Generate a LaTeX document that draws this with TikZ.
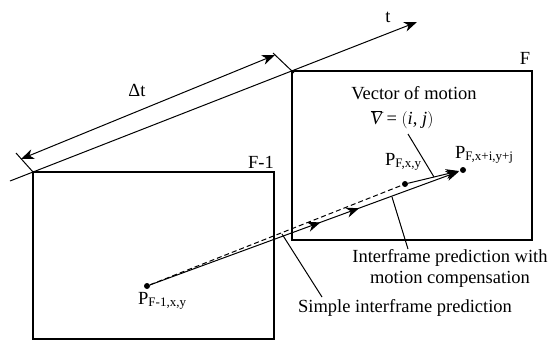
\documentclass[tikz,border=0pt]{standalone}
\usepackage{fontspec}
\setmainfont{Liberation Serif}
\usetikzlibrary{arrows.meta,decorations.markings,calc}
\tikzset{
  frame/.style={line width=2.3pt},
  thin line/.style={line width=1pt},
  tip/.style={-{Stealth[length=13pt,width=10pt,inset=4pt]}},
  dtip/.style={{Stealth[length=13pt,width=10pt,inset=4pt]}-{Stealth[length=13pt,width=10pt,inset=4pt]}},
  lbl/.style={inner sep=0pt, font=\fontsize{18.5}{21}\selectfont},
  dot/.style={circle, fill=black, inner sep=0pt, minimum size=6pt},
  midarrows/.style={decoration={markings,
     mark=at position 0.55 with {\arrow{Stealth[length=13pt,width=10pt,inset=4pt]}},
     mark=at position 0.675 with {\arrow{Stealth[length=13pt,width=10pt,inset=4pt]}}},
     postaction={decorate}},
}
\newcommand{\Psub}[1]{P\raisebox{-0.3ex}{\fontsize{13}{15}\selectfont #1}}
\begin{document}
\begin{tikzpicture}[x=1pt,y=-1pt]
\useasboundingbox (0,0) rectangle (555,341);
% frames
\draw[frame] (33,172) rectangle (274,339);
\draw[frame] (292,71) rectangle (532,240);
% time axis
\coordinate (ax0) at (10,181);
\coordinate (ax1) at (417,22);
\coordinate (c1) at (33,172);
\coordinate (c2) at (292,71);
\draw[thin line, tip] (ax0) -- (ax1);
% ticks
\coordinate (t1) at (16,153);
\coordinate (t2) at (273,53);
\draw[thin line] (t1) -- (c1);
\draw[thin line] (t2) -- ($(c2)+(2,2)$);
% delta t
\coordinate (d1) at (21,159);
\coordinate (d2) at (275,55);
\draw[thin line, dtip] (d1) -- (d2);
\node[lbl] (dt) at (137,90) {Δt};
\node[lbl] (tl) at (388,17) {t};
\node[lbl] (f1) at (261,162) {F-1};
\node[lbl] (f) at (525,58) {F};
% points
\node[dot] (pA) at (147,286) {};
\node[dot] (pB) at (405,184) {};
\node[dot] (pC) at (463,170) {};
\node[lbl, anchor=base west] (lA) at (138,304) {\Psub{F-1,x,y}};
\node[lbl, anchor=base west] (lB) at (385,165) {\Psub{F,x,y}};
\node[lbl, anchor=base west] (lC) at (455,158) {\Psub{F,x+i,y+j}};
% prediction lines
\draw[thin line, dashed, dash pattern=on 5pt off 3pt] (pA) -- (pB);
\draw[thin line, midarrows, tip, shorten >=1pt] (pA) -- (pC);
\draw[thin line, tip, shorten >=1pt] (pB) -- (pC);
% vector of motion
\node[lbl] (vm) at (414,93) {Vector of motion};
\node[lbl] (vv) at (402,120) {$\overline{\mbox{\itshape V}}$ = $\Bigl($\textit{i}, \textit{j}$\Bigr)$};
\coordinate (v1) at (408,134);
\coordinate (v2) at (434,177);
\draw[thin line] (v1) -- (v2);
% interframe with motion compensation
\node[lbl, align=center] (imc) at (450,268) {Interframe prediction with\\motion compensation};
\coordinate (m1) at (392,197);
\coordinate (m2) at (408,249);
\draw[thin line] (m1) -- (m2);
% simple
\node[lbl] (sip) at (405,308) {Simple interframe prediction};
\coordinate (s1) at (282,234);
\coordinate (s2) at (322,297);
\draw[thin line] (s1) -- (s2);
\end{tikzpicture}
\end{document}
